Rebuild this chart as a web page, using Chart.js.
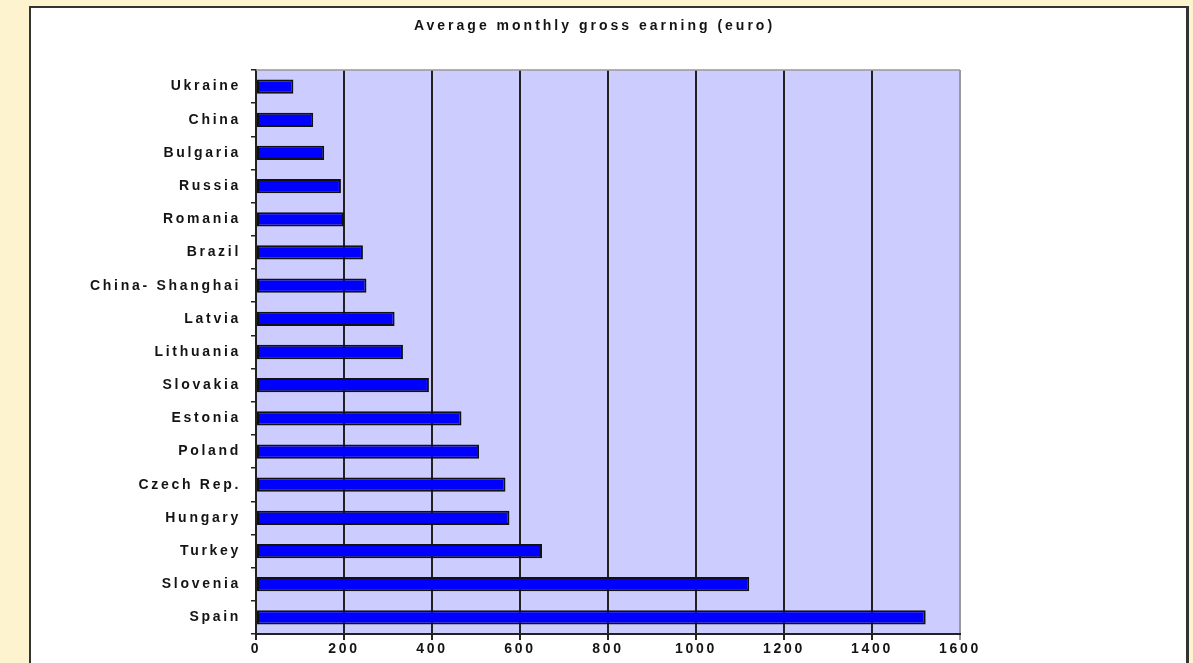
<!DOCTYPE html>
<html>
<head>
<meta charset="utf-8">
<script src="https://cdn.jsdelivr.net/npm/chart.js@4/dist/chart.umd.min.js"></script>
<style>
  html, body { margin: 0; padding: 0; }
  body { width: 1193px; height: 663px; background: #fdf3cf; overflow: hidden; position: relative; }
  #panel {
    position: absolute; left: 29px; top: 6px; width: 1155px; height: 720px;
    background: #ffffff; border: 2px solid #333333; border-right-width: 3px;
  }
  #wrap { position: absolute; left: 31px; top: 8px; width: 1127px; height: 655px; }
</style>
</head>
<body>
<div id="panel"></div>
<div id="wrap"><canvas id="chart"></canvas></div>
<script>
// Chart data
const countries = [
  "Ukraine", "China", "Bulgaria", "Russia", "Romania", "Brazil",
  "China- Shanghai", "Latvia", "Lithuania", "Slovakia", "Estonia",
  "Poland", "Czech Rep.", "Hungary", "Turkey", "Slovenia", "Spain"
];
const earnings = [
  85, 130, 155, 193, 200, 243,
  251, 315, 334, 393, 467,
  507, 567, 576, 650, 1121, 1522
];
const chartTitle = "Average monthly gross earning (euro)";

const textColor = "#141414";
const fontFamily = "'Liberation Sans', Arial, sans-serif";

// the old spread-out text look, canvas letter spacing
const spacingPlugin = {
  id: "spacing",
  beforeUpdate(chart) { chart.ctx.letterSpacing = "2.7px"; },
  beforeDraw(chart) { chart.ctx.letterSpacing = "2.7px"; }
};

// lavender plot area with a grey top edge, plus the title
// (title is centred on the whole panel, not on the plot)
const plotAreaPlugin = {
  id: "plotArea",
  beforeDraw(chart) {
    const { ctx, chartArea } = chart;
    ctx.save();
    ctx.fillStyle = "#ccccff";
    ctx.fillRect(chartArea.left, chartArea.top, chartArea.right - chartArea.left, chartArea.bottom - chartArea.top);
    ctx.restore();
  },
  beforeDatasetsDraw(chart) {
    const { ctx, chartArea } = chart;
    ctx.save();
    ctx.strokeStyle = "#999999";
    ctx.lineWidth = 1.5;
    ctx.beginPath();
    ctx.moveTo(chartArea.left, chartArea.top);
    ctx.lineTo(chartArea.right, chartArea.top);
    ctx.stroke();
    ctx.restore();
  },
  afterDraw(chart) {
    const { ctx } = chart;
    ctx.save();
    ctx.letterSpacing = "3px";
    ctx.font = "bold 14px " + fontFamily;
    ctx.fillStyle = textColor;
    ctx.textAlign = "center";
    ctx.textBaseline = "middle";
    ctx.fillText(chartTitle, chart.width / 2, 18);
    ctx.restore();
  }
};

new Chart(document.getElementById("chart"), {
  type: "bar",
  data: {
    labels: countries,
    datasets: [{
      data: earnings,
      backgroundColor: "#0000ff",
      borderColor: "#111111",
      borderWidth: 2,
      borderSkipped: false,
      barPercentage: 0.43,
      categoryPercentage: 1
    }]
  },
  options: {
    indexAxis: "y",
    responsive: true,
    maintainAspectRatio: false,
    animation: false,
    events: [],
    layout: { padding: { left: 0, right: 198, top: 62, bottom: 0 } },
    plugins: {
      legend: { display: false },
      tooltip: { enabled: false },
      title: { display: false }
    },
    scales: {
      x: {
        min: 0,
        max: 1600,
        ticks: {
          stepSize: 200,
          color: textColor,
          padding: 1,
          font: { family: fontFamily, size: 14, weight: "bold" },
          callback: (v) => String(v)
        },
        grid: {
          color: (c) => (c.tick && c.tick.value === 1600 ? "#999999" : "#222222"),
          lineWidth: 2,
          tickLength: 6
        },
        border: { color: "#222222", width: 2 },
        afterFit(scale) { scale.height = 29; }
      },
      y: {
        ticks: {
          color: textColor,
          padding: 10,
          font: { family: fontFamily, size: 14, weight: "bold" }
        },
        grid: {
          drawOnChartArea: false,
          color: "#222222",
          lineWidth: 1.5,
          tickLength: 5
        },
        border: { color: "#222222", width: 2 },
        afterFit(scale) { scale.width = 225; }
      }
    }
  },
  plugins: [spacingPlugin, plotAreaPlugin]
});
</script>
</body>
</html>
